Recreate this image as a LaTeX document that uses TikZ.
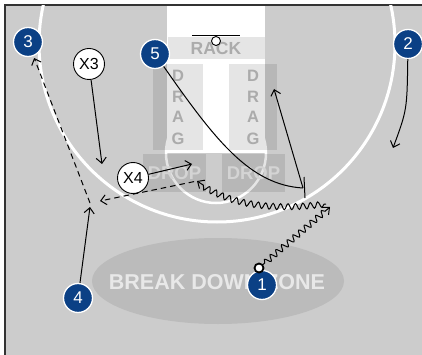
\documentclass[tikz,border=0pt]{standalone}
\usepackage{fontspec}
\setmainfont{Liberation Sans}
\usetikzlibrary{arrows.meta,decorations.pathmorphing}
\definecolor{court}{HTML}{CCCCCC}
\definecolor{pblue}{HTML}{0B4085}
\definecolor{zone}{HTML}{BBBBBB}
\definecolor{lbl}{HTML}{ABABAB}
\definecolor{droplbl}{HTML}{D4D4D4}
\definecolor{zonetxt}{HTML}{E8E8E8}
\begin{document}
\begin{tikzpicture}[x=1pt,y=-1pt,
  player/.style={circle,fill=pblue,draw=white,line width=1.3pt,minimum size=29pt,inner sep=0pt,text=white,font=\fontsize{17}{17}\selectfont},
  defender/.style={circle,fill=white,draw=black,line width=0.9pt,minimum size=31pt,inner sep=0pt,font=\fontsize{16}{16}\selectfont},
  ball/.style={circle,fill=white,draw=black,line width=1.8pt,minimum size=9pt,inner sep=0pt},
  markbox/.style={fill=black,fill opacity=0.1,draw=none},
  marktxt/.style={text=lbl,font=\bfseries\fontsize{16.5}{16.5}\selectfont,inner sep=0pt},
  droptxt/.style={marktxt,text=droplbl,font=\bfseries\fontsize{18.5}{18.5}\selectfont},
  move/.style={line width=1pt,-{Straight Barb[length=5.5pt,width=10pt]}},
  pass/.style={move,dash pattern=on 5.5pt off 4pt},
  dribble/.style={move,decorate,decoration={snake,segment length=7.5pt,amplitude=3pt,post length=6pt,pre length=2pt}},
]
\useasboundingbox (0,0) rectangle (422,355);
\fill[white] (0,0) rectangle (422,355);
\fill[court] (5,5) rectangle (422,355);
\draw[line width=1.3pt,black!80] (5,355) -- (5,5) -- (422,5);
% lane
\fill[white] (167,6) rectangle (265,153);
\begin{scope}
  \clip (6,6) rectangle (422,355);
  \draw[white,line width=3pt] (217,44) circle[radius=178pt];
  \draw[white,line width=2.5pt] (216,153) circle[radius=50pt];
\end{scope}
% zone
\fill[zone] (218,281) ellipse[x radius=126pt,y radius=43pt];
\node[text=zonetxt,font=\bfseries\fontsize{21.5}{21.5}\selectfont] (zt) at (217,282) {BREAK DOWN ZONE};
% marker boxes
\fill[markbox] (168,37) rectangle (265,59);
\node[marktxt,font=\bfseries\fontsize{17.5}{17.5}\selectfont] (rack) at (216,48) {RACK};
\draw[line width=1pt] (192,36) -- (240,36);
\draw[line width=0.9pt,fill=white] (216,41) circle[radius=4.5pt];
\fill[markbox] (153,64) rectangle (203,150);
\fill[markbox] (229,64) rectangle (277,150);
\foreach \l/\yy [count=\i] in {D/76,R/97,A/117,G/139}{
  \node[marktxt] (dl\i) at (178,\yy) {\l};
  \node[marktxt] (dr\i) at (253,\yy) {\l};
}
\fill[markbox] (143,154) rectangle (206,192);
\fill[markbox] (222,154) rectangle (285,192);
\node[droptxt] (dropl) at (174.5,173) {DROP};
\node[droptxt] (dropr) at (253.5,173) {DROP};
% players
\node[player] (p3) at (28,42) {3};
\node[player] (p5) at (155,54) {5};
\node[player] (p2) at (408,44) {2};
\node[player] (p4) at (78,298) {4};
\node[player] (p1) at (262,285) {1};
\node[ball] (ball) at (259,268) {};
\node[defender] (x3) at (89,64) {X3};
\node[defender] (x4) at (133,178) {X4};
% end points
\coordinate (x3e) at (102,164);
\coordinate (x4e) at (192,164);
\coordinate (p2e) at (393,148);
\coordinate (p4e) at (90,207);
\coordinate (d1e) at (330,207);
\coordinate (d1s) at (326,204);
\coordinate (d2e) at (197,181);
\coordinate (pa1e) at (100,201);
\coordinate (pa2s) at (90,203);
\coordinate (scr) at (303,188);
\coordinate (scrT) at (304,177);
\coordinate (scrB) at (305,198);
\coordinate (rolle) at (274,89);
% movements
\draw[move] (x3) -- (x3e);
\draw[move] (x4) -- (x4e);
\draw[move] (p2) .. controls (407,110) .. (p2e);
\draw[move] (p4) -- (p4e);
\draw[line width=1pt] (p5) .. controls (215,140) and (250,185) .. (scr);
\draw[line width=1pt] (scrT) -- (scrB);
\draw[move] (scr) -- (rolle);
\draw[dribble] (ball) -- (d1e);
\draw[dribble] (d1s) .. controls (260,212) and (225,200) .. (d2e);
\draw[pass,shorten <=3pt] (d2e) -- (pa1e);
\draw[pass,shorten >=2pt] (pa2s) -- (p3);
\end{tikzpicture}
\end{document}
